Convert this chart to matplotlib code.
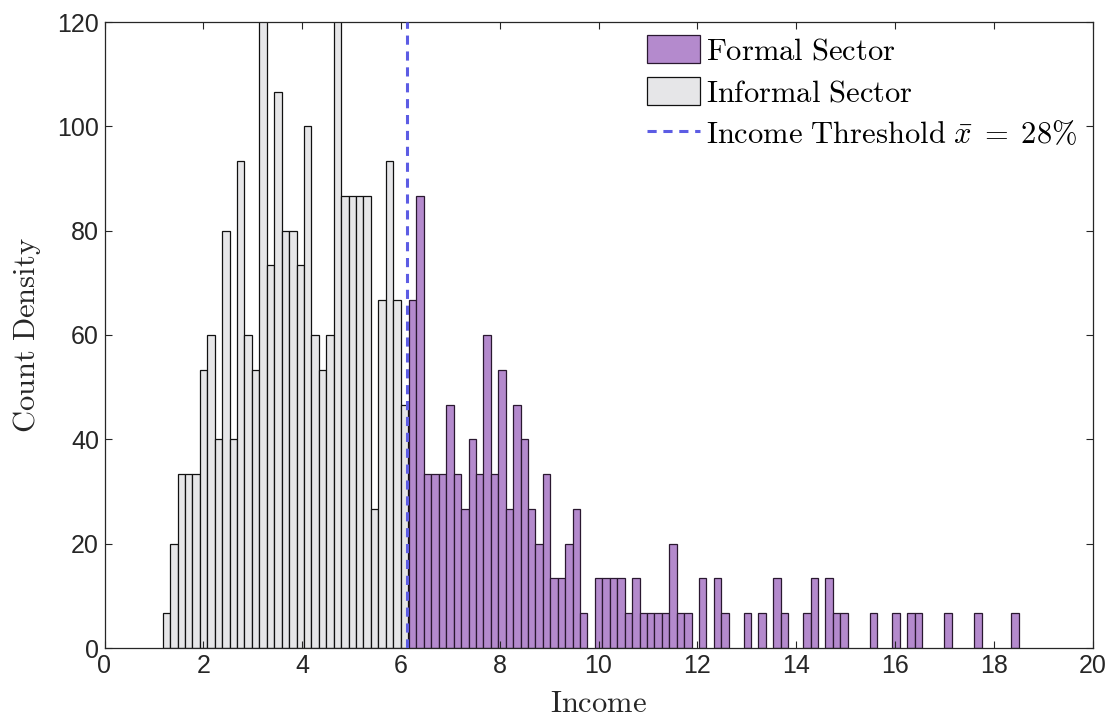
import numpy as np
import matplotlib
matplotlib.use("Agg")
import matplotlib.pyplot as plt

# ---- data (counts per bin, shown as count density = count / bin width) ----
bin_width = 0.1505
informal_start = 1.178
formal_start = 6.165
threshold = 6.117

informal_counts = [1, 3, 5, 5, 5, 8, 9, 6, 12, 6, 14, 9, 8, 19, 11, 16, 12, 12, 11, 15,
                   9, 8, 9, 19, 13, 13, 13, 13, 4, 10, 14, 10, 7]
formal_counts = [10, 13, 5, 5, 5, 7, 5, 4, 6, 5, 9, 5, 8, 4, 7, 6, 4, 3,
                 5, 2, 2, 3, 4, 1, 0, 2, 2, 2, 2, 1, 2, 1, 1, 1, 1,
                 3, 1, 1, 0, 2, 0, 2, 1, 0, 0, 1, 0, 1, 0, 2, 1, 0, 0, 1, 2,
                 0, 2, 1, 1, 0, 0, 0, 1, 0, 0, 1, 0, 1, 1, 0, 0, 0, 1, 0, 0, 0, 1, 0, 0, 0, 0, 1]

xticks = [0, 2, 4, 6, 8, 10, 12, 14, 16, 18, 20]
yticks = [0, 20, 40, 60, 80, 100, 120]

plt.rcParams['mathtext.fontset'] = 'cm'

fig = plt.figure(figsize=(11.12, 7.19), dpi=100)
ax = fig.add_axes([104.5 / 1112, 71 / 719, 988 / 1112, 626 / 719])

inf_edges = informal_start + bin_width * np.arange(len(informal_counts))
for_edges = formal_start + bin_width * np.arange(len(formal_counts))
inf_density = np.array(informal_counts) / 0.15
for_density = np.array(formal_counts) / 0.15

b_inf = ax.bar(inf_edges, inf_density, width=bin_width, align='edge',
               color='#E6E6E8', edgecolor='#111111', linewidth=0.9,
               label=r'$\mathrm{Informal\ Sector}$')
mask = for_density > 0
b_for = ax.bar(for_edges[mask], for_density[mask], width=bin_width, align='edge',
               color='#B48ACD', edgecolor='#2A1830', linewidth=0.9,
               label=r'$\mathrm{Formal\ Sector}$')
ln = ax.axvline(threshold, color='#5C5CE4', linestyle=(0, (3.0, 2.2)), linewidth=2.2,
                zorder=5, label=r'$\mathrm{Income\ Threshold}\ \bar{x}\;=\;28\%$')

ax.set_xlim(0, 20)
ax.set_ylim(0, 120)
ax.set_xticks(xticks)
ax.set_yticks(yticks)
ax.tick_params(direction='in', top=True, right=True, length=5, width=0.8,
               labelsize=18, colors='#262626', pad=4)
for lab in ax.get_xticklabels() + ax.get_yticklabels():
    lab.set_family('Liberation Sans')
for s in ax.spines.values():
    s.set_color('#262626')
    s.set_linewidth(0.9)

ax.set_xlabel(r'$\mathrm{Income}$', fontsize=22, color='#262626', labelpad=8)
ax.set_ylabel(r'$\mathrm{Count\ Density}$', fontsize=22, color='#262626', labelpad=10)

leg = ax.legend(handles=[b_for, b_inf, ln], loc='upper right',
                bbox_to_anchor=(0.984, 0.979), frameon=False, fontsize=22,
                handlelength=1.75, handleheight=1.05, handletextpad=0.17,
                labelspacing=0.36, borderpad=0, borderaxespad=0)

fig.savefig('out.png', dpi=100)
